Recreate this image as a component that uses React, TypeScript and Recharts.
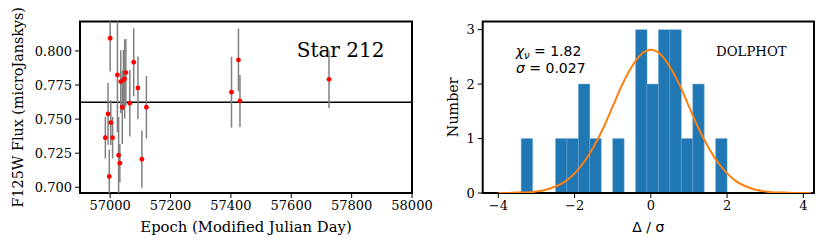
import React from 'react';
import {
  ScatterChart,
  Scatter,
  ErrorBar,
  ComposedChart,
  Line,
  XAxis,
  YAxis,
  ReferenceLine,
  ReferenceArea
} from 'recharts';

// light curve of star 212
const epochs = [56984, 56993, 57000, 56997, 57002, 57008, 57024, 57028, 57032, 57035, 57040, 57044, 57048, 57052, 57065, 57078, 57092, 57105, 57120, 57402, 57425, 57430, 57725];
const fluxes = [0.7364, 0.7538, 0.8093, 0.7079, 0.7474, 0.7364, 0.7824, 0.7235, 0.7177, 0.7775, 0.7587, 0.7787, 0.7795, 0.7841, 0.7617, 0.7917, 0.7729, 0.7206, 0.7587, 0.7697, 0.7934, 0.7633, 0.7792];
const fluxErrors = [0.0153, 0.0226, 0.0244, 0.0196, 0.0164, 0.0153, 0.042, 0.028, 0.014, 0.023, 0.027, 0.022, 0.029, 0.0247, 0.0244, 0.025, 0.023, 0.021, 0.023, 0.026, 0.023, 0.019, 0.021];
const meanFlux = 0.7623;
const epochRange = [56900, 58000];
const fluxRange = [0.6958, 0.8216];
const epochTicks = [57000, 57200, 57400, 57600, 57800, 58000];
const fluxTicks = [0.7, 0.725, 0.75, 0.775, 0.8];

// histogram of residuals
const binLefts = [-3.4, -2.5, -2.2, -1.9, -1.6, -1.0, -0.4, -0.1, 0.2, 0.5, 0.8, 1.1, 1.7];
const binCounts = [1, 1, 1, 2, 1, 1, 3, 2, 3, 3, 1, 2, 1];
const binWidth = 0.3;

// fitted curve, sampled off the plot
const fitX = [-4, -3.75, -3.5, -3.25, -3, -2.75, -2.5, -2.25, -2, -1.75, -1.5, -1.25, -1, -0.75, -0.5, -0.25, 0, 0.25, 0.5, 0.75, 1, 1.25, 1.5, 1.75, 2, 2.25, 2.5, 2.75, 3, 3.25, 3.5, 3.75, 4, 4.2];
const fitY = [0, 0, 0.01, 0.01, 0.03, 0.06, 0.12, 0.21, 0.36, 0.57, 0.85, 1.19, 1.59, 1.99, 2.32, 2.55, 2.63, 2.55, 2.32, 1.99, 1.59, 1.19, 0.85, 0.57, 0.36, 0.21, 0.12, 0.06, 0.03, 0.01, 0.01, 0, 0, 0];
const residRange = [-4.41, 4.28];
const countRange = [0, 3.15];
const residTicks = [-4, -2, 0, 2, 4];
const countTicks = [0, 1, 2, 3];

const SERIF = 'DejaVu Serif';
const SANS = 'DejaVu Sans';
const tickStyle = { fill: '#000', fontSize: 13, fontFamily: SERIF };
const tickLine = { stroke: '#000', strokeWidth: 1 };

const lightCurve = epochs.map((mjd, i) => ({ mjd, flux: fluxes[i], err: fluxErrors[i] }));
const fitCurve = fitX.map((x, i) => ({ x, y: fitY[i] }));

const RedDot = (props: any) => <circle cx={props.cx} cy={props.cy} r={2.4} fill="#ff0000" />;

const LightCurve = () => (
  <ScatterChart width={450} height={249} margin={{ top: 21.5, right: 38, bottom: 0, left: 0 }}>
    <defs>
      <clipPath id="lc-plot">
        <rect x={80} y={21.5} width={332} height={171.5} />
      </clipPath>
    </defs>
    <ReferenceLine y={meanFlux} stroke="#000" strokeWidth={1.5} />
    <Scatter data={lightCurve} shape={RedDot} isAnimationActive={false}>
      <ErrorBar dataKey="err" direction="y" width={0} stroke="#808080" strokeWidth={1.5} clipPath="url(#lc-plot)" />
    </Scatter>
    <ReferenceArea
      x1={epochRange[0]}
      x2={epochRange[1]}
      y1={fluxRange[0]}
      y2={fluxRange[1]}
      fill="none"
      stroke="#000"
      strokeWidth={2}
    />
    <XAxis
      type="number"
      dataKey="mjd"
      domain={epochRange}
      ticks={epochTicks}
      height={56}
      tickSize={5}
      tickMargin={3}
      tick={tickStyle}
      axisLine={false}
      tickLine={tickLine}
      label={{ value: 'Epoch (Modified Julian Day)', position: 'insideBottom', offset: 17, fill: '#000', fontSize: 14.8, fontFamily: SERIF }}
    />
    <YAxis
      type="number"
      dataKey="flux"
      domain={fluxRange}
      allowDataOverflow
      ticks={fluxTicks}
      tickFormatter={(v: number) => v.toFixed(3)}
      width={80}
      tickSize={5}
      tickMargin={3}
      tick={tickStyle}
      axisLine={false}
      tickLine={tickLine}
      label={{ value: 'F125W Flux (microJanskys)', angle: -90, position: 'center', dx: -22, fill: '#000', fontSize: 14.3, fontFamily: SERIF }}
    />
    <text x={296.7} y={56.7} fontSize={20} fontFamily={SERIF} fill="#000">Star 212</text>
  </ScatterChart>
);

const Residuals = () => (
  <ComposedChart width={415} height={249} margin={{ top: 21.5, right: 16, bottom: 0, left: 0 }}>
    {binLefts.map((left, i) => (
      <ReferenceArea
        key={i}
        x1={left}
        x2={left + binWidth}
        y1={0}
        y2={binCounts[i]}
        fill="#1f77b4"
        fillOpacity={1}
        stroke="#6fa6d6"
        strokeWidth={0.5}
      />
    ))}
    <Line data={fitCurve} dataKey="y" type="monotone" stroke="#ff7f0e" strokeWidth={2} dot={false} isAnimationActive={false} />
    <ReferenceArea
      x1={residRange[0]}
      x2={residRange[1]}
      y1={countRange[0]}
      y2={countRange[1]}
      fill="none"
      stroke="#000"
      strokeWidth={2}
    />
    <XAxis
      type="number"
      dataKey="x"
      domain={residRange}
      allowDataOverflow
      ticks={residTicks}
      tickFormatter={(v: number) => String(v).replace('-', '\u2212')}
      height={56}
      tickSize={5}
      tickMargin={3}
      tick={tickStyle}
      axisLine={false}
      tickLine={tickLine}
      label={{ value: '\u0394 / \u03c3', position: 'insideBottom', offset: 17, fill: '#000', fontSize: 14, fontFamily: SANS }}
    />
    <YAxis
      type="number"
      domain={countRange}
      allowDataOverflow
      ticks={countTicks}
      width={67.7}
      tickSize={5}
      tickMargin={3}
      tick={tickStyle}
      axisLine={false}
      tickLine={tickLine}
      label={{ value: 'Number', angle: -90, position: 'center', dx: 4.4, fill: '#000', fontSize: 14.3, fontFamily: SERIF }}
    />
    <text x={100.7} y={56} fontSize={14} fontFamily={SANS} fill="#000">
      <tspan fontStyle="italic">χ</tspan>
      <tspan fontStyle="italic" fontSize={10} dy={3}>ν</tspan>
      <tspan dy={-3}> = 1.82</tspan>
    </text>
    <text x={101} y={72.7} fontSize={14} fontFamily={SANS} fill="#000">
      <tspan fontStyle="italic">σ</tspan>
      <tspan> = 0.027</tspan>
    </text>
    <text x={301} y={56} fontSize={13.3} fontFamily={SERIF} fill="#000">DOLPHOT</text>
  </ComposedChart>
);

export default function App() {
  return (
    <div style={{ position: 'absolute', left: 0, top: 0, width: 830, height: 249, background: '#fff' }}>
      <div style={{ position: 'absolute', left: 0, top: 0 }}>
        <LightCurve />
      </div>
      <div style={{ position: 'absolute', left: 415, top: 0 }}>
        <Residuals />
      </div>
    </div>
  );
}
